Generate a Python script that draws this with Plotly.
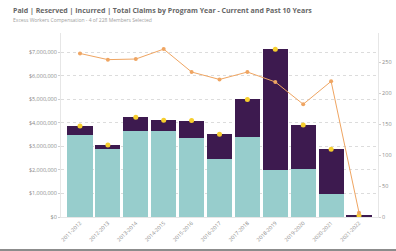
import plotly.graph_objects as go

years = ["2011-2012", "2012-2013", "2013-2014", "2014-2015", "2015-2016", "2016-2017",
         "2017-2018", "2018-2019", "2019-2020", "2020-2021", "2021-2022"]
paid = [3480000, 2870000, 3650000, 3660000, 3340000, 2450000, 3380000, 1990000, 2020000, 960000, 10000]
reserved = [380000, 180000, 580000, 440000, 750000, 1060000, 1610000, 5130000, 1880000, 1910000, 50000]
incurred = [3860000, 3050000, 4230000, 4100000, 4090000, 3510000, 4990000, 7120000, 3900000, 2870000, 60000]
total_claims = [264, 254, 255, 271, 234, 222, 234, 218, 182, 219, 7]

left_ticks = [0, 1000000, 2000000, 3000000, 4000000, 5000000, 6000000, 7000000]
left_labels = ["$0", "$1,000,000", "$2,000,000", "$3,000,000", "$4,000,000",
               "$5,000,000", "$6,000,000", "$7,000,000"]
right_ticks = [0, 50, 100, 150, 200, 250]

teal = "#97CDCC"
purple = "#3D1A4F"
orange = "#EFA562"
gold = "#F6CE2E"
txt = "#8A8A8A"
font = "Open Sans, Roboto, sans-serif"

fig = go.Figure()
fig.add_trace(go.Bar(x=years, y=paid, name="Paid", marker=dict(color=teal, line=dict(width=0))))
fig.add_trace(go.Bar(x=years, y=reserved, name="Reserved", marker=dict(color=purple, line=dict(width=0))))
fig.add_trace(go.Scatter(x=years, y=incurred, name="Incurred", mode="markers",
                         marker=dict(color=gold, size=5)))
fig.add_trace(go.Scatter(x=years, y=total_claims, name="Total Claims", mode="lines+markers",
                         yaxis="y2", line=dict(color=orange, width=1),
                         marker=dict(color=orange, size=4)))

fig.update_layout(
    width=396, height=251,
    barmode="stack", bargap=0.1,
    showlegend=False,
    paper_bgcolor="white", plot_bgcolor="white",
    margin=dict(l=61, r=18, t=33, b=34, autoexpand=False),
    font=dict(family=font, size=5.5, color=txt),
    xaxis=dict(tickangle=-45, tickfont=dict(size=5.3, color=txt), showgrid=False,
               showline=True, linecolor="#E6E6E6", linewidth=1, ticks="", ticklen=0,
               fixedrange=True, automargin=False),
    yaxis=dict(range=[0, 7806000], tickvals=left_ticks, ticktext=left_labels,
               showgrid=True, gridcolor="#DCDCDC", griddash="dot", gridwidth=1,
               showline=True, linecolor="#E6E6E6", linewidth=1,
               ticks="outside", ticklen=2, tickcolor="#D0D0D0",
               tickfont=dict(size=5.5, color=txt), zeroline=False, automargin=False),
    yaxis2=dict(range=[0, 297], tickvals=right_ticks, overlaying="y", side="right",
                showgrid=False, showline=True, linecolor="#E6E6E6", linewidth=1,
                ticks="outside", ticklen=2, tickcolor="#D0D0D0",
                tickfont=dict(size=5.5, color=txt), zeroline=False, automargin=False),
)

fig.add_annotation(text="<b>Paid | Reserved | Incurred | Total Claims by Program Year - Current and Past 10 Years</b>",
                   xref="paper", yref="paper", x=-50/317, y=1 + 23/184, xanchor="left", yanchor="middle",
                   showarrow=False, font=dict(size=7, color="#666666", family=font))
fig.add_annotation(text="Excess Workers Compensation - 4 of 228 Members Selected",
                   xref="paper", yref="paper", x=-50/317, y=1 + 13/184, xanchor="left", yanchor="middle",
                   showarrow=False, font=dict(size=5, color="#A0A0A0", family=font))

fig.add_shape(type="rect", xref="paper", yref="paper", x0=-61/317, x1=1 + 18/317,
              y0=-34/184, y1=-32/184, fillcolor="#8C8C8C", line=dict(width=0))

fig.write_html("out.html", config={"displayModeBar": False},
               post_script="document.body.style.margin='0';document.body.style.overflow='hidden';")
